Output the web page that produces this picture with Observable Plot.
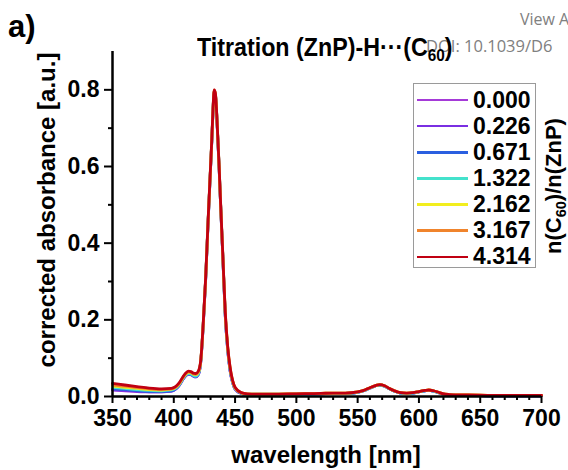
<!DOCTYPE html>
<html>
<head>
<meta charset="utf-8">
<script src="https://cdn.jsdelivr.net/npm/d3@7"></script>
<script src="https://cdn.jsdelivr.net/npm/@observablehq/plot@0.6"></script>
<style>
  html, body { margin: 0; padding: 0; background: #fff; }
  #wrap { position: relative; width: 568px; height: 470px; overflow: hidden; font-family: "Liberation Sans", Arial, sans-serif; font-weight: bold; color: #000; }
  #chart { position: absolute; left: 0; top: 0; }
  .ov { position: absolute; white-space: nowrap; line-height: 1; }
  .wm { font-family: "Open Sans", "DejaVu Sans", sans-serif; font-weight: normal; color: #808080; }
  .rot { transform: translate(-50%, -50%) rotate(-90deg); transform-origin: center center; }
  sub { font-size: 0.66em; vertical-align: -0.32em; line-height: 0; }
</style>
</head>
<body>
<div id="wrap">
  <div id="chart"></div>
</div>
<script>
// ---- data ----
const wavelengths = [350,360,370,380,390,398,404,408,410,412,414,416,418,420,
  422,424,426,428,430,431,432,433,434,435,436,437,438,440,442,444,446,448,450,455,460,470,480,500,520,530,540,550,
  555,560,565,568,572,576,580,585,590,595,600,605,608,612,616,620,625,630,640,660,680,700];

const ratios = ["0.000","0.226","0.671","1.322","2.162","3.167","4.314"];
const colors = ["#a53ad8","#7a2fe2","#2a5fe0","#44e2cc","#f2ee1e","#f0842c","#c00012"];

const abs_0000 = [.017,.015,.013,.012,.012,.014,.027,.047,.055,.058,.057,.053,.051,.057,
  .090,.185,.305,.455,.595,.665,.745,.795,.785,.735,.665,.595,.515,.365,.21,.12,.066,.036,.019,.008,.005,.005,.005,.006,.007,.008,.008,.011,
  .015,.022,.028,.030,.027,.020,.014,.009,.008,.009,.012,.015,.016,.014,.010,.006,.004,.003,.003,.002,.002,.002];
const abs_0226 = [.018,.016,.014,.012,.012,.014,.027,.047,.055,.058,.057,.053,.051,.057,
  .090,.185,.305,.455,.595,.665,.745,.795,.785,.735,.665,.595,.515,.365,.21,.12,.066,.036,.019,.008,.005,.005,.005,.006,.007,.008,.008,.011,
  .015,.022,.028,.030,.027,.020,.014,.009,.008,.009,.012,.015,.016,.014,.010,.006,.004,.003,.003,.002,.002,.002];
const abs_0671 = [.020,.018,.015,.013,.013,.015,.028,.048,.056,.059,.058,.054,.052,.058,
  .091,.186,.306,.456,.596,.666,.746,.796,.786,.736,.666,.596,.516,.366,.212,.122,.068,.037,.020,.008,.005,.005,.005,.006,.007,.008,.008,.011,
  .015,.022,.028,.030,.027,.020,.014,.009,.008,.009,.012,.015,.016,.014,.010,.006,.004,.003,.003,.002,.002,.002];
const abs_1322 = [.024,.021,.018,.016,.015,.017,.029,.049,.057,.060,.059,.055,.053,.059,
  .092,.187,.307,.457,.597,.667,.747,.797,.787,.737,.667,.597,.517,.367,.213,.123,.069,.038,.021,.009,.006,.006,.006,.006,.007,.008,.008,.011,
  .015,.022,.028,.030,.027,.020,.014,.009,.008,.009,.012,.015,.016,.014,.010,.006,.004,.003,.003,.003,.003,.003];
const abs_2162 = [.027,.024,.021,.018,.017,.019,.031,.051,.059,.063,.062,.058,.057,.062,
  .093,.188,.308,.458,.598,.668,.748,.798,.788,.738,.668,.598,.518,.368,.217,.127,.072,.040,.022,.009,.006,.006,.006,.007,.008,.009,.009,.012,
  .016,.023,.029,.031,.028,.021,.015,.010,.009,.010,.013,.016,.017,.015,.011,.007,.005,.004,.004,.003,.003,.003];
const abs_3167 = [.030,.027,.023,.020,.018,.020,.032,.052,.060,.064,.063,.059,.058,.064,
  .094,.189,.309,.459,.599,.669,.749,.799,.789,.739,.669,.599,.519,.369,.219,.129,.074,.041,.023,.010,.007,.006,.006,.007,.008,.009,.009,.012,
  .016,.023,.029,.031,.028,.021,.015,.010,.009,.010,.013,.016,.017,.015,.011,.007,.005,.004,.004,.003,.003,.003];
const abs_4314 = [.034,.030,.026,.022,.020,.021,.034,.054,.062,.066,.065,.061,.060,.066,
  .095,.19,.31,.46,.60,.67,.75,.80,.79,.74,.67,.60,.52,.37,.22,.13,.075,.042,.024,.010,.007,.006,.006,.007,.008,.009,.009,.012,
  .016,.023,.029,.031,.028,.021,.015,.010,.009,.010,.013,.016,.017,.015,.011,.007,.005,.004,.004,.003,.003,.003];

const xMajorTicks = [350,400,450,500,550,600,650,700];
const xMinorTicks = [360,370,380,390,410,420,430,440,460,470,480,490,510,520,530,540,560,570,580,590,610,620,630,640,660,670,680,690];
const yMajorTicks = [0,0.2,0.4,0.6,0.8];
const yMinorTicks = [0.1,0.3,0.5,0.7];

// ---- build table ----
const seriesValues = [abs_0000, abs_0226, abs_0671, abs_1322, abs_2162, abs_3167, abs_4314];
const rows = ratios.flatMap((r, i) => wavelengths.map((w, j) => ({wl: w, a: seriesValues[i][j], ratio: r})));

const font = "Liberation Sans, Arial, sans-serif";
const chart = Plot.plot({
  width: 568,
  height: 470,
  marginLeft: 112,
  marginRight: 27,
  marginTop: 51,
  marginBottom: 74,
  style: {fontFamily: font, fontWeight: "bold", fontSize: "23px", background: "transparent", color: "#000"},
  x: {domain: [350, 700]},
  y: {domain: [0, 0.9]},
  color: {domain: ratios, range: colors},
  marks: [
    Plot.line(rows, {x: "wl", y: "a", z: "ratio", stroke: "ratio", strokeWidth: 2.8, curve: "monotone-x"}),
    Plot.axisX({ticks: xMajorTicks, tickSize: 7, tickPadding: 6, strokeWidth: 2, fontSize: 23, fontWeight: "bold", label: null, tickFormat: d => String(d)}),
    Plot.axisX({ticks: xMinorTicks, tickSize: 4, strokeWidth: 2, label: null, tickFormat: () => ""}),
    Plot.axisY({ticks: yMajorTicks, tickSize: 8, tickPadding: 5, strokeWidth: 2, fontSize: 23, fontWeight: "bold", label: null, tickFormat: d => d.toFixed(1)}),
    Plot.axisY({ticks: yMinorTicks, tickSize: 4, strokeWidth: 2, label: null, tickFormat: () => ""}),
    Plot.ruleX([350], {y1: 0, y2: 0.9, strokeWidth: 2.5}),
    Plot.ruleY([0], {x1: 350, x2: 700, strokeWidth: 2.5})
  ]
});
document.getElementById("chart").appendChild(chart);

// ---- overlays (text, legend) ----
const wrap = document.getElementById("wrap");
function addText(html, left, baseline, size, cls, extraStyle) {
  const d = document.createElement("div");
  d.className = "ov " + (cls || "");
  d.innerHTML = html;
  d.style.left = left + "px";
  d.style.top = (baseline - 0.8465 * size) + "px";
  d.style.fontSize = size + "px";
  if (extraStyle) Object.assign(d.style, extraStyle);
  wrap.appendChild(d);
  return d;
}
function addRot(html, cx, cy, size) {
  const d = document.createElement("div");
  d.className = "ov rot";
  d.innerHTML = html;
  d.style.left = cx + "px";
  d.style.top = cy + "px";
  d.style.fontSize = size + "px";
  wrap.appendChild(d);
}

addText("a)", 8, 37, 31);
addText("View A", 520, 25, 16, "wm");
addText("DOI: 10.1039/D6", 426, 52, 16.5, "wm");
addText("Titration (ZnP)-H···(C<sub>60</sub>)", 197, 56, 25, "", {transform: "scaleX(0.93)", transformOrigin: "left center"});

// axis titles
const xt = addText("wavelength [nm]", 326, 463, 24);
xt.style.transform = "translateX(-50%)";
addRot("corrected absorbance [a.u.]", 47, 210, 24);
addRot("n(C<sub>60</sub>)/n(ZnP)", 554, 186, 22);

// legend
const box = document.createElement("div");
box.className = "ov";
Object.assign(box.style, {left: "413px", top: "83px", width: "121px", height: "183px", border: "1.5px solid #9a9a9a", background: "#fff"});
wrap.appendChild(box);
ratios.forEach((r, i) => {
  const cy = 100 + i * 26.15;
  const ln = document.createElement("div");
  ln.className = "ov";
  Object.assign(ln.style, {left: "417px", top: (cy - 1.3) + "px", width: "51px", height: "2.6px", background: colors[i]});
  wrap.appendChild(ln);
  addText(r, 473, cy + 8, 23);
});
</script>
</body>
</html>
